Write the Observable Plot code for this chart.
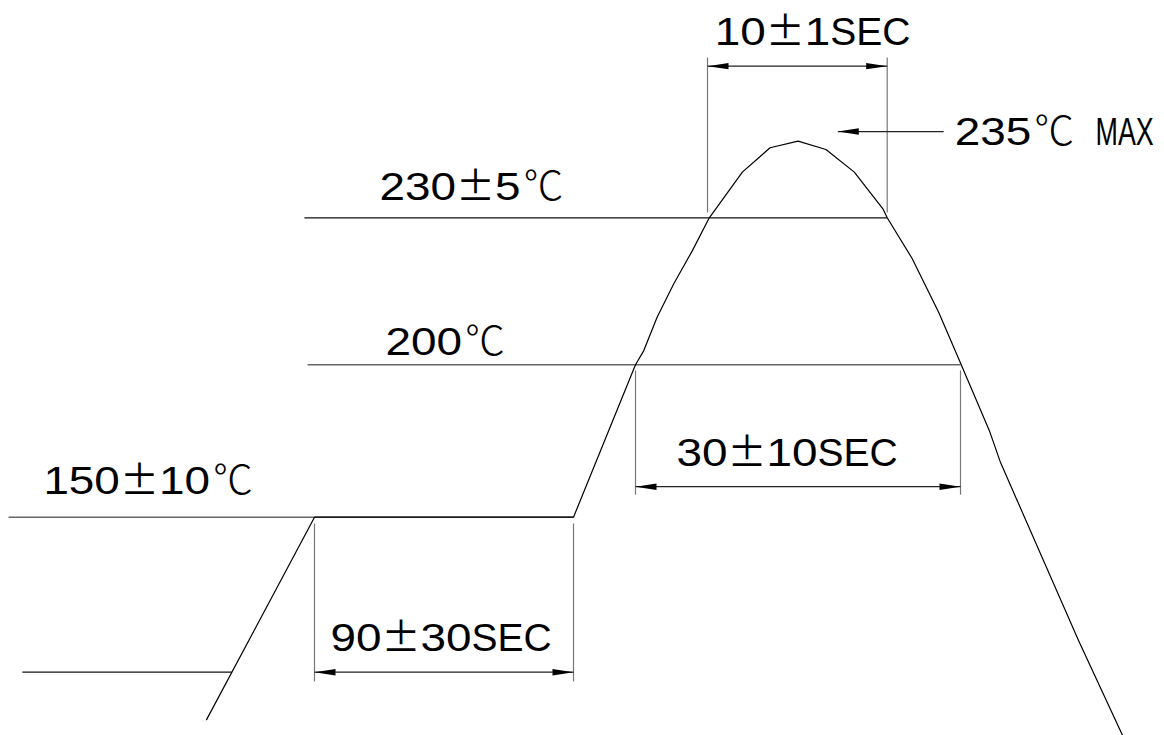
<!DOCTYPE html>
<html><head><meta charset="utf-8">
<script src="https://cdn.jsdelivr.net/npm/d3@7"></script>
<script src="https://cdn.jsdelivr.net/npm/@observablehq/plot@0.6"></script>
<style>html,body{margin:0;padding:0;background:#fff;}</style>
</head><body><div id="chart"></div>
<script>
// Reflow profile (schematic): time in seconds, temperature in °C
const profileTime = [-37.5, 0, 90, 100, 101.15, 103.0, 105.3, 107.9, 110.1, 111.94, 113.48, 115.04, 116.59, 118.17, 119.76, 120, 123.4, 127.05, 130.1, 133.96, 135.4, 145.95, 151.9];
const profileTemp = [84.7, 150, 150, 200, 202.9, 209.7, 216.5, 223.3, 230, 232.98, 234.57, 235.0, 234.46, 232.98, 230.59, 230, 221.7, 210.6, 200, 178.0, 168.0, 110.2, 79.6];

// Reference temperature lines
const refTemp  = [100, 150, 200, 230];
const refStart = [-101.5, -106.3, -2.4, -3.5];
const refEnd   = [-28.7, 90, 130, 120];
const refGrey  = [false, true, true, false];

// Time dimensions
const dimLabel  = ["90±30SEC", "30±10SEC", "10±1SEC"];
const dimFrom   = [0, 100, 110];
const dimTo     = [90, 130, 120];
const dimAt     = [100, 160, 239.9];
const dimTop    = [147.97, 198.13, 240.46];
const dimBottom = [97.0, 157.4, 230.35];
const dimTextT  = [5.56, 105.7, 110.4];
const dimTextY  = [106.7, 166.96, 241.25];

// Temperature labels
const tempLabel = ["150±10℃", "200℃", "230±5℃", "235℃"];
const tempTextT = [-94.2, 24.7, 22.6, 129.2];
const tempTextY = [157.45, 202.1, 231.19, 234.78];

// Peak callout
const peakLabel = "MAX";
const peakArrowFrom = 127.7, peakArrowTo = 117.25, peakArrowTemp = 235.63;
const peakMaxT = 148.24, peakMaxY = 234.78;

// Schematic (not-to-scale) axis warps used by the scales
const timeKnots = [-110, 0, 90, 100, 110, 120, 130, 160];
const timeDraw  = [-2.6, 314, 573, 635, 707, 886.7, 960, 1182];
const tempKnots = [100, 150, 200, 230, 235, 245];
const tempDraw  = [63.3, 218.3, 370.7, 517.7, 594.3, 747.5];
const timeWarp = d3.scaleLinear().domain(timeKnots).range(timeDraw);
const tempWarp = d3.scaleLinear().domain(tempKnots).range(tempDraw);

// ---- build tables ----
const profile = profileTime.map((t, i) => ({t, T: profileTemp[i]}));
const refs = refTemp.map((T, i) => ({T, t1: refStart[i], t2: refEnd[i], grey: refGrey[i]}));
const dims = dimLabel.map((label, i) => ({label, from: dimFrom[i], to: dimTo[i], at: dimAt[i], top: dimTop[i], bottom: dimBottom[i], tt: dimTextT[i], ty: dimTextY[i]}));
const verticals = dims.flatMap(d => [{t: d.from, y1: d.bottom, y2: d.top}, {t: d.to, y1: d.bottom, y2: d.top}]);
const heads = dims.flatMap(d => [{t: d.from, T: d.at, rot: -90}, {t: d.to, T: d.at, rot: 90}]);
heads.push({t: peakArrowTo, T: peakArrowTemp, rot: -90});
const labels = [
  ...dims.map(d => ({text: d.label, t: d.tt, T: d.ty})),
  ...tempLabel.map((text, i) => ({text, t: tempTextT[i], T: tempTextY[i]}))
];

const triangle = {
  draw(context, l) {
    const w = 3.2;
    context.moveTo(0, -l);
    context.lineTo(w, 0);
    context.lineTo(-w, 0);
    context.closePath();
  }
};

const chart = Plot.plot({
  width: 1164,
  height: 735,
  margin: 0,
  style: {background: "#fff"},
  x: {transform: timeWarp, domain: [0, 1164], range: [0, 1164], axis: null},
  y: {transform: tempWarp, domain: [0, 735], range: [735, 0], axis: null},
  marks: [
    Plot.link(refs.filter(d => d.grey), {x1: "t1", x2: "t2", y1: "T", y2: "T", stroke: "#666", strokeWidth: 1.6}),
    Plot.link(refs.filter(d => !d.grey), {x1: "t1", x2: "t2", y1: "T", y2: "T", stroke: "#111", strokeWidth: 1.2}),
    Plot.link(verticals, {x1: "t", x2: "t", y1: "y1", y2: "y2", stroke: "#777", strokeWidth: 1.2}),
    Plot.link(dims, {x1: "from", x2: "to", y1: "at", y2: "at", stroke: "#222", strokeWidth: 1.2}),
    Plot.link([{a: peakArrowFrom, b: peakArrowTo, T: peakArrowTemp}], {x1: "a", x2: "b", y1: "T", y2: "T", stroke: "#222", strokeWidth: 1.2}),
    Plot.vector(heads, {x: "t", y: "T", rotate: "rot", length: 21, anchor: "end", shape: triangle, fill: "#000", stroke: "none"}),
    Plot.line(profile, {x: "t", y: "T", stroke: "#000", strokeWidth: 1.2, curve: "linear"}),
    Plot.text(labels, {x: "t", y: "T", text: "text", textAnchor: "start", fontSize: 39, fontFamily: "Liberation Sans", fill: "#000", className: "lbl"}),
    Plot.text([{text: peakLabel, t: peakMaxT, T: peakMaxY}], {x: "t", y: "T", text: "text", textAnchor: "start", fontSize: 39, fontFamily: "Liberation Sans", fill: "#000", className: "maxlbl"})
  ]
});
document.getElementById("chart").appendChild(chart);

// put the text baseline exactly on the anchor point
function baselineFix(el) {
  const y = el.attr("y");
  if (y == null || /em$/.test(y)) el.attr("y", 0);
  el.attr("dy", "0");
}

// Mixed-font rendering of labels: wide digits, full-width ± and ℃ glyphs
d3.select(chart).selectAll(".lbl text").each(function() {
  const el = d3.select(this);
  const s = this.textContent;
  baselineFix(el);
  el.text(null);
  const parts = s.match(/[±℃]|[0-9]+|[^±℃0-9]+/g);
  parts.forEach((p) => {
    const ts = el.append("tspan").text(p);
    if (p === "±") {
      ts.attr("font-family", "'Noto Sans CJK KR'");
    } else if (p === "℃") {
      ts.attr("font-family", "'Noto Sans CJK KR'").attr("font-weight", 300).attr("font-size", 40).attr("dx", 3);
    } else if (/^[0-9]+$/.test(p)) {
      ts.attr("textLength", 25.5 * p.length).attr("lengthAdjust", "spacingAndGlyphs");
    }
  });
});
d3.select(chart).selectAll(".maxlbl text").each(function() {
  const el = d3.select(this);
  const tr = el.attr("transform") || "";
  const ax = el.attr("x"), ay = el.attr("y");
  const x = ax && !/em$/.test(ax) ? +ax : 0, y = ay && !/em$/.test(ay) ? +ay : 0;
  el.attr("x", null).attr("y", null).attr("dy", "0");
  el.attr("transform", `${tr} translate(${x},${y}) scale(0.69,1)`);
});
</script>
</body></html>
